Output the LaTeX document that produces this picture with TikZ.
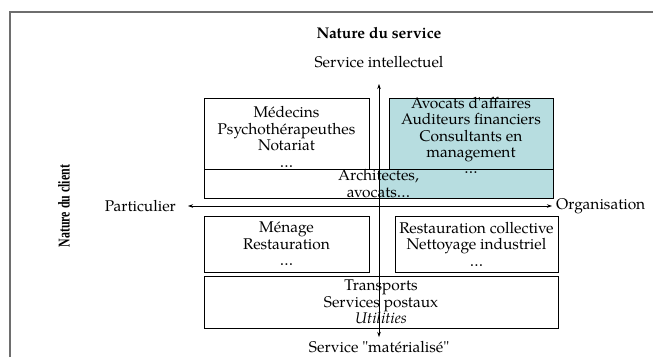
\documentclass[tikz,border=0pt]{standalone}
\usepackage{fontspec}
\setmainfont{texgyrepagella}[Extension=.otf,UprightFont=*-regular,BoldFont=*-bold,ItalicFont=*-italic,BoldItalicFont=*-bolditalic]
\newfontfamily\pag{texgyrepagella}[Extension=.otf,UprightFont=*-regular,BoldFont=*-bold,ItalicFont=*-italic,BoldItalicFont=*-bolditalic]
\newfontfamily\timesfont{Liberation Serif}
\usetikzlibrary{arrows.meta}
\definecolor{bluefill}{RGB}{183,221,224}
\definecolor{framegray}{RGB}{110,110,110}
\begin{document}
\begin{tikzpicture}[x=1pt,y=-1pt,
  txt/.style={font=\pag\fontsize{15.5}{16.5}\selectfont, inner sep=0pt, align=center},
  box/.style={draw=black, line width=0.6pt, inner sep=0pt, align=center, font=\pag\fontsize{15.5}{16.5}\selectfont},
  axis/.style={line width=0.6pt, {Stealth[length=5pt,width=3.5pt]}-{Stealth[length=5pt,width=3.5pt]}}
]
\useasboundingbox (0,0) rectangle (653,357);
% frame
\draw[framegray, line width=1.2pt] (10,357) -- (10,12) -- (653,12);
% titles
\node[txt, font=\pag\fontsize{15.5}{16.5}\selectfont\bfseries] (title) at (379,33) {Nature du service};
\node[txt] (intel) at (379,62) {Service intellectuel};
\node[txt] (mat) at (379,347) {Service "matérialisé"};
\node[rotate=90, inner sep=0pt, font=\timesfont\fontsize{16.5}{18}\selectfont\bfseries] (client) at (64,206)
  {\scalebox{0.72}[1]{Nature du client}};
\node[txt, anchor=east] (part) at (176,206) {Particulier};
\node[txt, anchor=west] (org) at (556,206) {Organisation};
% fills
\fill[bluefill] (379,169) rectangle (553,198);
% boxes
\node[box, minimum width=165pt, minimum height=71pt] (med) at (286.5,133.5) {};
\node[txt] (medtxt) at (286.5,137) {Médecins\\Psychothérapeuthes\\Notariat\\\ldots};
\node[box, fill=bluefill, minimum width=164pt, minimum height=71pt] (avo) at (471,133.5) {};
\node[txt, font=\pag\fontsize{15.5}{16.2}\selectfont] (avotxt) at (471,135.5)
  {Avocats d'affaires\\Auditeurs financiers\\Consultants en\\management\\\ldots};
\node[box, minimum width=349pt, minimum height=29pt] (arch) at (378.5,183.5)
  {Architectes,\\avocats\ldots};
\node[box, minimum width=165pt, minimum height=56pt] (men) at (286.5,244)
  {Ménage\\Restauration\\\ldots};
\node[box, minimum width=163pt, minimum height=56pt] (rest) at (476.5,244)
  {Restauration collective\\Nettoyage industriel\\\ldots};
\node[box, minimum width=354pt, minimum height=52pt] (trans) at (381,302)
  {Transports\\Services postaux\\\textit{Utilities}};
% axes
\coordinate (vtop) at (379,84);
\coordinate (vbot) at (379,337);
\coordinate (hl) at (188,206);
\coordinate (hr) at (552,206);
\draw[axis] (vbot) -- (vtop);
\draw[axis] (hl) -- (hr);
\end{tikzpicture}
\end{document}
